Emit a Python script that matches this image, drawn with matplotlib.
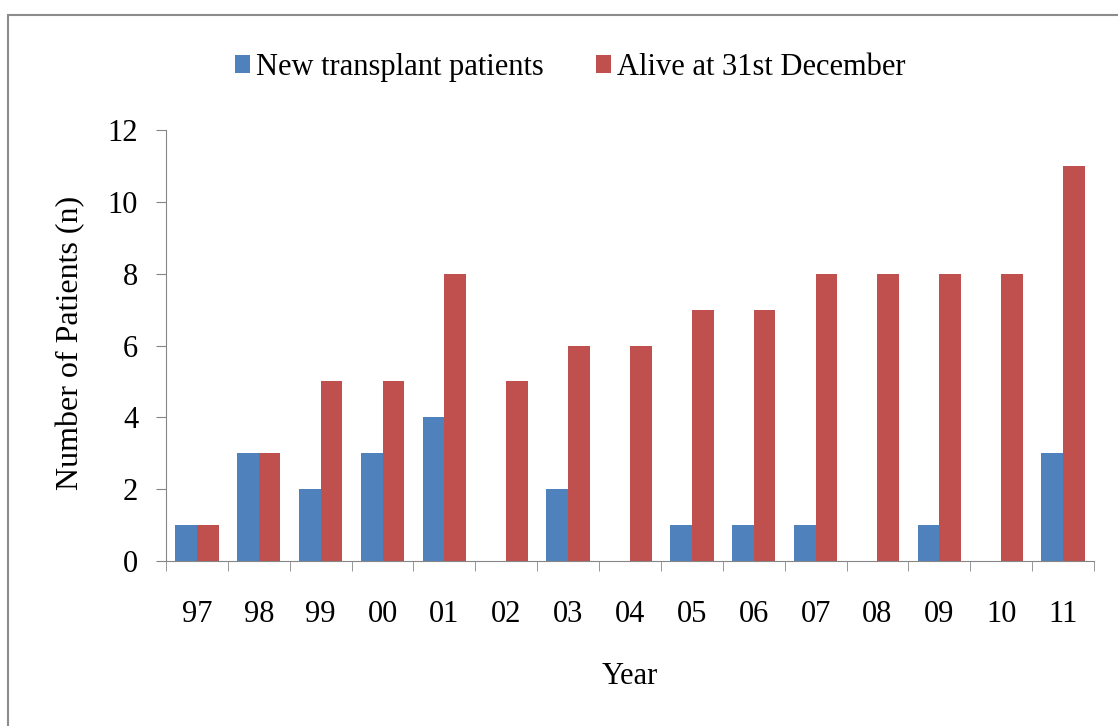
import numpy as np
import matplotlib
matplotlib.use('Agg')
import matplotlib.pyplot as plt
from matplotlib.patches import Rectangle

years = ['97', '98', '99', '00', '01', '02', '03', '04', '05', '06', '07', '08', '09', '10', '11']
new_patients = [1, 3, 2, 3, 4, 0, 2, 0, 1, 1, 1, 0, 1, 0, 3]
alive_dec31 = [1, 3, 5, 5, 8, 5, 6, 6, 7, 7, 8, 8, 8, 8, 11]

plt.rcParams['font.family'] = ['Liberation Serif', 'DejaVu Serif']
FS = 22

fig = plt.figure(figsize=(11.18, 7.26), dpi=100)
# chart frame (only top/left edges visible in the reference)
fig.patches.append(Rectangle((0.007, -0.05), 1.2, 1.03, transform=fig.transFigure,
                             fill=False, edgecolor='#8c8c8c', linewidth=1.5))

ax = fig.add_axes([0.1485, 0.2273, 0.83, 0.5936])

x = np.arange(len(years))
w = 0.35
ax.bar(x - w / 2, new_patients, w, color='#4F81BD', label='New transplant patients')
ax.bar(x + w / 2, alive_dec31, w, color='#C0504D', label='Alive at 31st December')

ax.set_xlim(-0.5, len(years) - 0.5)
ax.set_ylim(0, 12)
ax.set_yticks(range(0, 13, 2))
ax.set_xticks(x)
ax.set_xticklabels(years)
ax.set_xticks(np.arange(-0.5, len(years), 1), minor=True)
ax.tick_params(axis='x', which='major', length=0, pad=28, labelsize=FS)
ax.tick_params(axis='x', which='minor', length=7, color='#868686', direction='out')
ax.tick_params(axis='y', length=7, color='#868686', pad=13, labelsize=FS)

for s in ['top', 'right']:
    ax.spines[s].set_visible(False)
for s in ['left', 'bottom']:
    ax.spines[s].set_color('#868686')

ax.set_ylabel('Number of Patients (n)', fontsize=23)
ax.yaxis.set_label_coords(-0.087, 0.506)
ax.set_xlabel('Year', fontsize=FS, labelpad=24)

fig.legend(loc='center', bbox_to_anchor=(570 / 1118, 0.907), ncol=2, frameon=False,
           fontsize=FS, handlelength=0.5, handleheight=0.5, handletextpad=0.2,
           columnspacing=1.7, borderpad=0)

fig.savefig('out.png', dpi=100)
